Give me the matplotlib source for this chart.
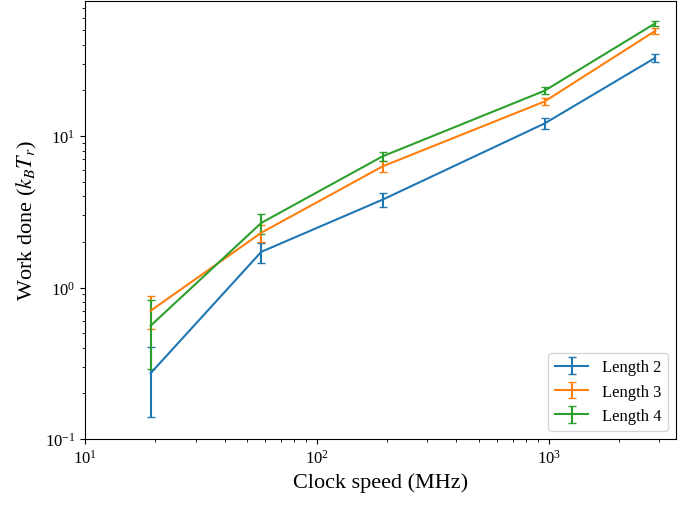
import matplotlib
matplotlib.use("Agg")
import matplotlib.pyplot as plt

plt.rcParams['font.family'] = ['Liberation Serif', 'DejaVu Serif']
plt.rcParams['mathtext.fontset'] = 'stix'

# Clock speeds (MHz)
clock = [19.2, 57.6, 192, 960, 2880]

# Work done per chain length, with error bars
work_len2 = [0.272, 1.72, 3.80, 12.1, 32.8]
err_len2 = [0.133, 0.26, 0.41, 1.0, 1.8]
work_len3 = [0.703, 2.30, 6.30, 16.9, 49.4]
err_len3 = [0.17, 0.29, 0.54, 0.88, 2.1]
work_len4 = [0.56, 2.67, 7.34, 19.9, 55.4]
err_len4 = [0.27, 0.40, 0.52, 1.03, 2.0]

fig = plt.figure(figsize=(6.94, 5.06), dpi=100)
ax = fig.add_axes([0.1225, 0.1304, 0.852, 0.866])

ax.errorbar(clock, work_len2, yerr=err_len2, capsize=3, label="Length 2")
ax.errorbar(clock, work_len3, yerr=err_len3, capsize=3, label="Length 3")
ax.errorbar(clock, work_len4, yerr=err_len4, capsize=3, label="Length 4")

ax.set_xscale("log")
ax.set_yscale("log")
ax.set_xlim(10, 3550)
ax.set_ylim(0.1, 78)
ax.set_xlabel("Clock speed (MHz)", fontsize=16)
ax.set_ylabel("Work done ($k_BT_r$)", fontsize=16)
ax.tick_params(labelsize=12)
ax.legend(loc="lower right", fontsize=12)

fig.savefig("out.png", dpi=100)
